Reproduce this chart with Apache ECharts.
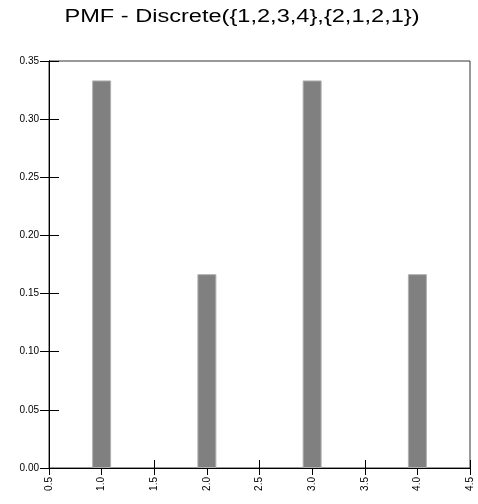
<!DOCTYPE html>
<html>
<head>
<meta charset="utf-8">
<script src="https://cdn.jsdelivr.net/npm/echarts@6/dist/echarts.min.js"></script>
<style>
  html, body { margin: 0; padding: 0; background: #fff; }
  #chart { width: 478px; height: 504px; }
</style>
</head>
<body>
<div id="chart"></div>
<script>
// values k and probabilities from the picture (weights 2,1,2,1 of 6)
const xValues = [1, 2, 3, 4];
const probs = [0.3333, 0.1667, 0.3333, 0.1667];
const titleText = 'PMF - Discrete({1,2,3,4},{2,1,2,1})';

const font = 'Liberation Sans, Arial, sans-serif';
const chart = echarts.init(document.getElementById('chart'));

const barData = xValues.map((x, i) => [x, probs[i]]);

const xBase = {
  type: 'value', min: 0.5, max: 4.5, interval: 0.5,
  splitLine: { show: false },
  axisLine: { lineStyle: { color: '#000', width: 1 } }
};
const yBase = {
  type: 'value', min: 0, max: 0.35, interval: 0.05,
  splitLine: { show: false },
  axisLine: { lineStyle: { color: '#000', width: 1 } }
};

chart.setOption({
  animation: false,
  // title is drawn wide, like the original's stretched font
  graphic: [{
    type: 'text',
    x: 242,
    y: 8,
    scaleX: 1.31,
    style: {
      text: titleText,
      x: 0, y: 0,
      textAlign: 'center',
      textVerticalAlign: 'top',
      font: '18px ' + font,
      fill: '#000'
    }
  }],
  grid: {
    left: 49, right: 8, top: 61, bottom: 36,
    show: true, borderColor: '#333', borderWidth: 1, backgroundColor: 'transparent'
  },
  xAxis: [
    Object.assign({}, xBase, {
      axisTick: { show: true, length: 7, lineStyle: { color: '#000' } },
      axisLabel: {
        rotate: 90, margin: 9, color: '#000', fontFamily: font, fontSize: 10,
        formatter: v => v.toFixed(1)
      }
    }),
    Object.assign({}, xBase, {
      position: 'bottom',
      axisTick: { show: true, inside: true, length: 8, lineStyle: { color: '#000' } },
      axisLabel: { show: false }
    })
  ],
  yAxis: [
    Object.assign({}, yBase, {
      axisTick: { show: true, length: 9, lineStyle: { color: '#000' } },
      axisLabel: {
        margin: 10, color: '#000', fontFamily: font, fontSize: 10,
        formatter: v => v.toFixed(2)
      }
    }),
    Object.assign({}, yBase, {
      position: 'left',
      axisTick: { show: true, inside: true, length: 10, lineStyle: { color: '#000' } },
      axisLabel: { show: false }
    })
  ],
  series: [{
    type: 'bar',
    xAxisIndex: 0,
    yAxisIndex: 0,
    data: barData,
    barWidth: 19,
    z: 1,
    itemStyle: { color: '#808080', borderColor: '#b0b0b0', borderWidth: 1 }
  }]
});
</script>
</body>
</html>
